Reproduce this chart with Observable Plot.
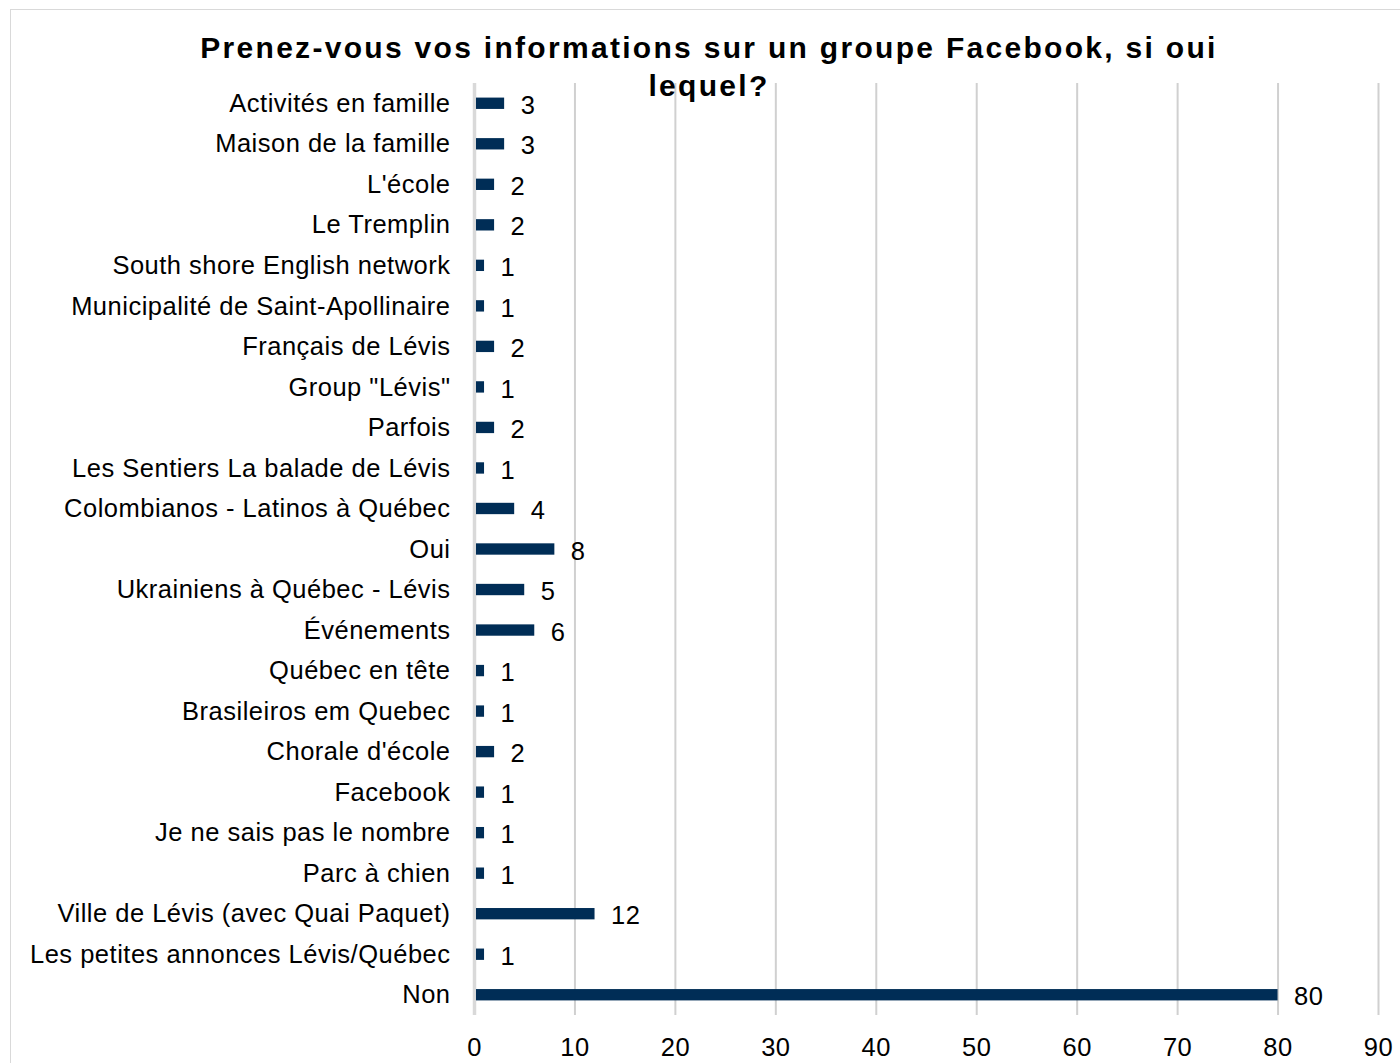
<!DOCTYPE html>
<html>
<head>
<meta charset="utf-8">
<script src="https://cdn.jsdelivr.net/npm/d3@7"></script>
<script src="https://cdn.jsdelivr.net/npm/@observablehq/plot@0.6"></script>
<style>
  html, body { margin: 0; padding: 0; background: #fff; }
  #wrap { position: relative; width: 1400px; height: 1063px; overflow: hidden; font-family: "Liberation Sans", Arial, sans-serif; }
  #frame { position: absolute; left: 10px; top: 9px; width: 1500px; height: 1200px; border: 1.5px solid #d9d9d9; box-sizing: border-box; }
  #title { position: absolute; left: 0; top: 29px; width: 1418px; text-align: center; font-weight: bold; font-size: 30px; letter-spacing: 2.3px; line-height: 38px; color: #000; }
  #chart { position: absolute; left: 0; top: 0; }
  #chart svg text { letter-spacing: 0.5px; }
</style>
</head>
<body>
<div id="wrap">
  <div id="frame"></div>
  <div id="chart"></div>
  <div id="title">Prenez-vous vos informations sur un groupe Facebook, si oui<br>lequel?</div>
</div>
<script>
const categories = [
  "Activités en famille",
  "Maison de la famille",
  "L'école",
  "Le Tremplin",
  "South shore English network",
  "Municipalité de Saint-Apollinaire",
  "Français de Lévis",
  "Group \"Lévis\"",
  "Parfois",
  "Les Sentiers La balade de Lévis",
  "Colombianos - Latinos à Québec",
  "Oui",
  "Ukrainiens à Québec - Lévis",
  "Événements",
  "Québec en tête",
  "Brasileiros em Quebec",
  "Chorale d'école",
  "Facebook",
  "Je ne sais pas le nombre",
  "Parc à chien",
  "Ville de Lévis (avec Quai Paquet)",
  "Les petites annonces Lévis/Québec",
  "Non"
];
const values = [3, 3, 2, 2, 1, 1, 2, 1, 2, 1, 4, 8, 5, 6, 1, 1, 2, 1, 1, 1, 12, 1, 80];
const xTicks = [0, 10, 20, 30, 40, 50, 60, 70, 80, 90];

const data = categories.map((c, i) => ({category: c, value: values[i]}));

const chart = Plot.plot({
  width: 1400,
  height: 1063,
  marginLeft: 474,
  marginRight: 22,
  marginTop: 83,
  marginBottom: 48,
  style: {fontFamily: "'Liberation Sans', Arial, sans-serif", fontSize: "25.5px", color: "#000", background: "transparent", overflow: "visible"},
  x: {domain: [0, 90], ticks: xTicks, label: null, tickSize: 0, tickPadding: 22},
  y: {domain: categories, label: null, tickSize: 0, tickPadding: 24, paddingInner: 0.72, paddingOuter: 0.36, round: false},
  marks: [
    Plot.gridX(xTicks.filter(d => d > 0), {stroke: "#d0d0d0", strokeWidth: 2, strokeOpacity: 1}),
    Plot.ruleX([0], {stroke: "#d9d9d9", strokeWidth: 3.5}),
    Plot.barX(data, {x: "value", y: "category", fill: "#002d56", insetLeft: 2}),
    Plot.text(data, {x: "value", y: "category", text: d => String(d.value), dx: 16, dy: 2, textAnchor: "start", fontSize: 25.5, fill: "#000"}),
    Plot.axisX({ticks: xTicks, tickSize: 0, tickPadding: 22, fontSize: 25.5, label: null}),
    Plot.axisY({tickSize: 0, tickPadding: 24, fontSize: 25.5, label: null})
  ]
});
document.getElementById("chart").appendChild(chart);
</script>
</body>
</html>
